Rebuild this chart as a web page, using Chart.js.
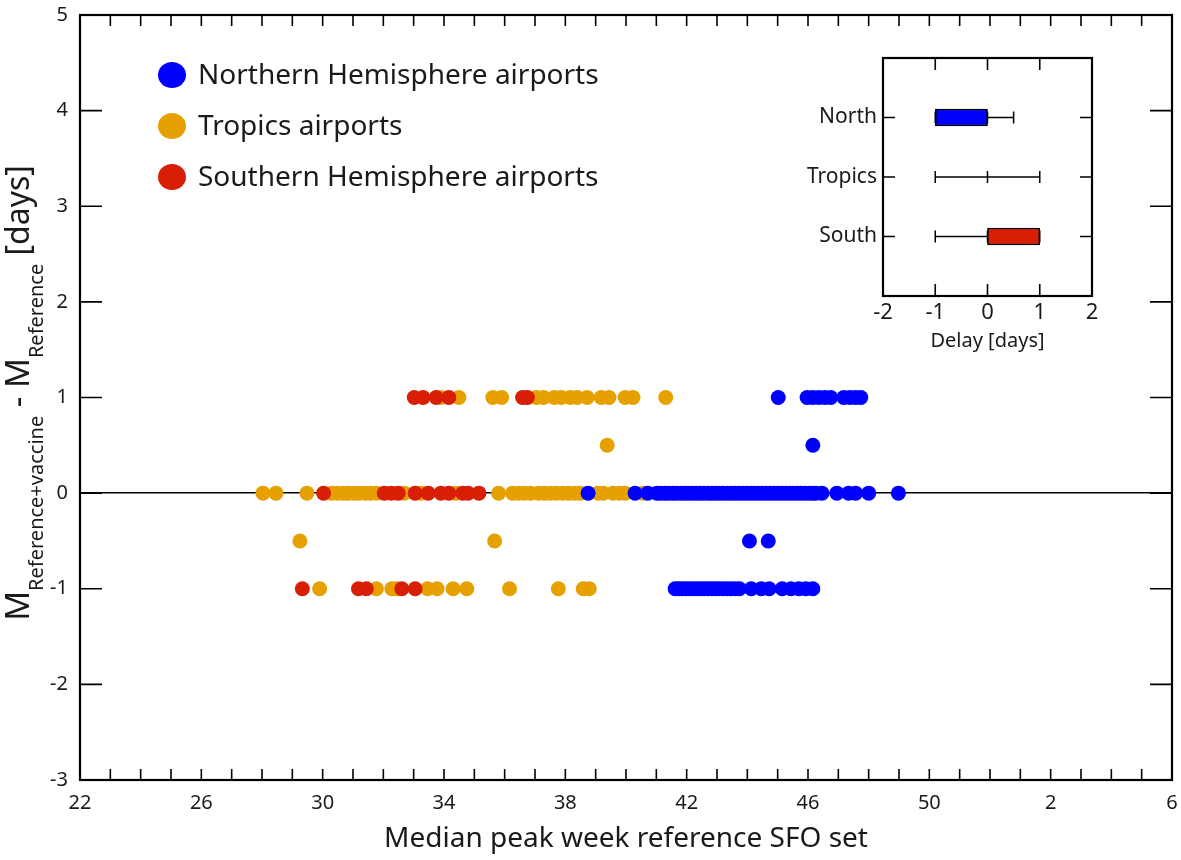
<!DOCTYPE html>
<html>
<head>
<meta charset="utf-8">
<script src="https://cdn.jsdelivr.net/npm/chart.js@4.4.1/dist/chart.umd.min.js"></script>
<style>
    html, body { margin: 0; padding: 0; background: #fff; }
    #wrap { position: relative; width: 1181px; height: 860px; }
    #mainChart { position: absolute; left: 0; top: 0; }
    #insetChart { position: absolute; left: 790px; top: 45px; }
</style>
</head>
<body>
<div id="wrap">
    <canvas id="mainChart" width="1181" height="860"></canvas>
    <canvas id="insetChart" width="320" height="320"></canvas>
</div>
<script>
const FONT = "'Noto Sans', 'DejaVu Sans', sans-serif";

// Series names and colours (legend order)
const groupNames = ['Northern Hemisphere airports', 'Tropics airports', 'Southern Hemisphere airports'];
const groupColors = ['#0000ff', '#e6a100', '#d81e05'];

// Delay levels (days), rows of the scatter
const delayLevels = [1, 0.5, 0, -0.5, -1];

// Median peak week per airport, one list per delay level above
const northWeeks = [
    [45.02, 45.97, 46.16, 46.36, 46.56, 46.75, 47.18, 47.38, 47.57, 47.74],
    [46.16],
    [38.75, 40.30, 40.72, 41.02, 41.14, 41.28, 41.40, 41.54, 41.66, 41.80, 41.93, 42.05, 42.19,
     42.31, 42.44, 42.56, 42.70, 42.83, 42.95, 43.08, 43.20, 43.34, 43.47, 43.59, 43.72, 43.85,
     43.98, 44.11, 44.23, 44.36, 44.49, 44.62, 44.75, 44.88, 45.00, 45.13, 45.26, 45.39, 45.52,
     45.65, 45.77, 45.90, 46.03, 46.16, 46.26, 46.46, 46.95, 47.34, 47.57, 48.00, 48.98],
    [44.07, 44.69],
    [41.62, 41.74, 41.86, 41.98, 42.10, 42.22, 42.34, 42.46, 42.58, 42.70, 42.83, 42.95, 43.08,
     43.21, 43.34, 43.47, 43.61, 43.74, 44.13, 44.46, 44.72, 45.15, 45.44, 45.70, 45.93, 46.16]
];
const tropicsWeeks = [
    [33.90, 34.49, 35.61, 35.90, 37.05, 37.28, 37.64, 37.87, 38.16, 38.39, 38.72, 39.18, 39.44,
     39.97, 40.23, 41.31],
    [39.38],
    [28.03, 28.46, 29.48, 30.30, 30.49, 30.69, 30.85, 31.05, 31.21, 31.41, 31.57, 31.77, 32.69,
     33.25, 34.39, 35.80, 36.26, 36.46, 36.66, 36.85, 37.11, 37.31, 37.51, 37.70, 37.90, 38.10,
     38.30, 38.49, 39.08, 39.25, 39.57, 39.77, 39.97, 40.56],
    [29.25, 35.67],
    [29.90, 31.77, 32.28, 32.43, 33.46, 33.77, 34.30, 34.75, 36.16, 37.77, 38.59, 38.79, 41.70]
];
const southWeeks = [
    [33.02, 33.31, 33.74, 34.16, 36.59, 36.75],
    [],
    [30.03, 32.03, 32.26, 32.49, 33.05, 33.48, 33.90, 34.16, 34.62, 34.79, 35.15],
    [],
    [29.33, 31.18, 31.44, 32.61, 33.05]
];

// Week axis: runs from week 22 into week 6 of the next season
const weekMin = 22;
const weekMax = 58;
const weeksPerYear = 52;

// Inset: delay summary per region
const insetGroups = ['North', 'Tropics', 'South'];
const insetColors = ['#0000ff', '#ffffff', '#d81e05'];
const delayMin = [-1, -1, -1];
const delayQ1 = [-1, 0, 0];
const delayMedian = [0, 0, 0];
const delayQ3 = [0, 0, 1];
const delayMax = [0.5, 1, 1];

function toPoints(weeksByLevel) {
    const pts = [];
    weeksByLevel.forEach((weeks, i) => {
        weeks.forEach(w => pts.push({ x: w, y: delayLevels[i] }));
    });
    return pts;
}

// Fixed axis box size, no extra label padding around the plot
function fixSize(prop, size) {
    return (s) => {
        s[prop] = size;
        s.paddingTop = 0;
        s.paddingBottom = 0;
        s.paddingLeft = 0;
        s.paddingRight = 0;
    };
}

// Frame with inward ticks on all four sides
function makeFrame(xLen, yLen, keepX, keepY) {
    return {
        id: 'frame',
        afterDatasetsDraw(chart) {
            const { ctx, chartArea: a, scales } = chart;
            ctx.save();
            ctx.strokeStyle = '#000';
            ctx.lineWidth = 1.6;
            ctx.beginPath();
            scales.x.ticks.forEach((t, i) => {
                if (!keepX(t)) return;
                const px = scales.x.getPixelForTick(i);
                ctx.moveTo(px, a.bottom); ctx.lineTo(px, a.bottom - xLen);
                ctx.moveTo(px, a.top); ctx.lineTo(px, a.top + xLen);
            });
            scales.y.ticks.forEach((t, i) => {
                if (!keepY(t)) return;
                const py = scales.y.getPixelForTick(i);
                ctx.moveTo(a.left, py); ctx.lineTo(a.left + yLen, py);
                ctx.moveTo(a.right, py); ctx.lineTo(a.right - yLen, py);
            });
            ctx.stroke();
            ctx.lineWidth = 2.2;
            ctx.strokeRect(a.left, a.top, a.right - a.left, a.bottom - a.top);
            ctx.restore();
        }
    };
}

// Legend drawn inside the plot area
const insideLegend = {
    id: 'insideLegend',
    afterDraw(chart) {
        const ctx = chart.ctx;
        ctx.save();
        ctx.font = '28px ' + FONT;
        ctx.textBaseline = 'middle';
        groupNames.forEach((name, i) => {
            const cy = 75 + i * 51;
            ctx.fillStyle = groupColors[i];
            ctx.beginPath();
            ctx.ellipse(172, cy, 14, 13, 0, 0, Math.PI * 2);
            ctx.fill();
            ctx.fillStyle = '#1a1a1a';
            ctx.fillText(name, 198, cy + 1);
        });
        ctx.restore();
    }
};

// Rotated y title with subscripts
const yTitle = {
    id: 'yTitle',
    afterDraw(chart) {
        const ctx = chart.ctx;
        const parts = [
            { text: 'M', size: 33, shift: 0 },
            { text: 'Reference+vaccine', size: 20, shift: 14 },
            { text: ' - M', size: 33, shift: 0 },
            { text: 'Reference', size: 20, shift: 14 },
            { text: ' [days]', size: 32, shift: 0 }
        ];
        ctx.save();
        let total = 0;
        parts.forEach(p => {
            ctx.font = p.size + 'px ' + FONT;
            p.w = ctx.measureText(p.text).width;
            total += p.w;
        });
        ctx.translate(0, 393);
        ctx.rotate(-Math.PI / 2);
        ctx.fillStyle = '#1a1a1a';
        ctx.textBaseline = 'alphabetic';
        let x = -total / 2;
        parts.forEach(p => {
            ctx.font = p.size + 'px ' + FONT;
            ctx.fillText(p.text, x, 29 + p.shift);
            x += p.w;
        });
        ctx.restore();
    }
};

function initMainChart() {
    const ctx = document.getElementById('mainChart').getContext('2d');
    const allWeeks = [northWeeks, tropicsWeeks, southWeeks];
    const drawOrder = [0, 2, 1]; // blue on top, then red, orange below

    const datasets = allWeeks.map((weeks, i) => ({
        label: groupNames[i],
        data: toPoints(weeks),
        backgroundColor: groupColors[i],
        borderWidth: 0,
        pointRadius: 7.5,
        pointHoverRadius: 7.5,
        order: drawOrder[i]
    }));

    new Chart(ctx, {
        type: 'scatter',
        data: { datasets: datasets },
        options: {
            responsive: false,
            animation: false,
            layout: { padding: { left: 0, right: 9, top: 15, bottom: 4 } },
            plugins: {
                legend: { display: false },
                tooltip: { enabled: false }
            },
            scales: {
                x: {
                    type: 'linear',
                    min: weekMin,
                    max: weekMax,
                    afterFit: fixSize('height', 76),
                    border: { display: false },
                    grid: { display: false, drawTicks: false },
                    ticks: {
                        stepSize: 1,
                        autoSkip: false,
                        maxRotation: 0,
                        padding: 11,
                        color: '#1a1a1a',
                        font: { family: FONT, size: 20 },
                        callback: (v) => {
                            if ((v - weekMin) % 4 !== 0) return '';
                            return String(v > weeksPerYear ? v - weeksPerYear : v);
                        }
                    },
                    title: {
                        display: true,
                        text: 'Median peak week reference SFO set',
                        color: '#1a1a1a',
                        font: { family: FONT, size: 28 },
                        padding: { top: 0, bottom: 0 }
                    }
                },
                y: {
                    type: 'linear',
                    min: -3,
                    max: 5,
                    afterFit: fixSize('width', 80),
                    border: { display: false },
                    grid: {
                        drawTicks: false,
                        lineWidth: 1.5,
                        color: (c) => (c.tick && c.tick.value === 0 ? '#000' : 'rgba(0,0,0,0)')
                    },
                    ticks: {
                        stepSize: 1,
                        padding: 12,
                        color: '#1a1a1a',
                        font: { family: FONT, size: 20 }
                    }
                }
            }
        },
        plugins: [makeFrame(11, 22, () => true, () => true), insideLegend, yTitle]
    });
}

function initInsetChart() {
    const ctx = document.getElementById('insetChart').getContext('2d');
    const insetRows = [''].concat(insetGroups, ['']);

    const boxData = [];
    const boxColors = [];
    insetGroups.forEach((g, i) => {
        if (delayQ1[i] !== delayQ3[i]) {
            boxData.push({ x: [delayQ1[i], delayQ3[i]], y: g });
            boxColors.push(insetColors[i]);
        }
    });

    const datasets = [{
        type: 'bar',
        data: boxData,
        backgroundColor: boxColors,
        borderColor: '#000',
        borderWidth: 1.5,
        borderSkipped: false,
        barThickness: 17
    }];

    insetGroups.forEach((g, i) => {
        datasets.push({
            type: 'line',
            data: [
                { x: delayMin[i], y: g },
                { x: delayMedian[i], y: g },
                { x: delayMax[i], y: g }
            ],
            borderColor: '#000',
            borderWidth: 1.5,
            pointStyle: 'line',
            pointRotation: 90,
            pointRadius: 6,
            pointBorderColor: '#000',
            pointBorderWidth: 1.5,
            fill: false
        });
    });

    new Chart(ctx, {
        type: 'bar',
        data: { labels: insetRows, datasets: datasets },
        options: {
            indexAxis: 'y',
            responsive: false,
            animation: false,
            layout: { padding: { left: 0, right: 18, top: 13, bottom: 0 } },
            plugins: {
                legend: { display: false },
                tooltip: { enabled: false }
            },
            scales: {
                x: {
                    type: 'linear',
                    min: -2,
                    max: 2,
                    afterFit: fixSize('height', 69),
                    border: { display: false },
                    grid: { display: false, drawTicks: false },
                    ticks: {
                        stepSize: 1,
                        padding: 4,
                        color: '#1a1a1a',
                        font: { family: FONT, size: 22 }
                    },
                    title: {
                        display: true,
                        text: 'Delay [days]',
                        color: '#1a1a1a',
                        font: { family: FONT, size: 20 },
                        padding: { top: 0, bottom: 12 }
                    }
                },
                y: {
                    type: 'category',
                    offset: false,
                    afterFit: fixSize('width', 93),
                    border: { display: false },
                    grid: { display: false, drawTicks: false },
                    ticks: {
                        padding: 6,
                        color: '#1a1a1a',
                        font: { family: FONT, size: 21 }
                    }
                }
            }
        },
        plugins: [makeFrame(12, 12, (t) => Math.abs(t.value) < 2, (t) => t.label !== '')]
    });
}

document.addEventListener('DOMContentLoaded', () => {
    initMainChart();
    initInsetChart();
});
</script>
</body>
</html>
